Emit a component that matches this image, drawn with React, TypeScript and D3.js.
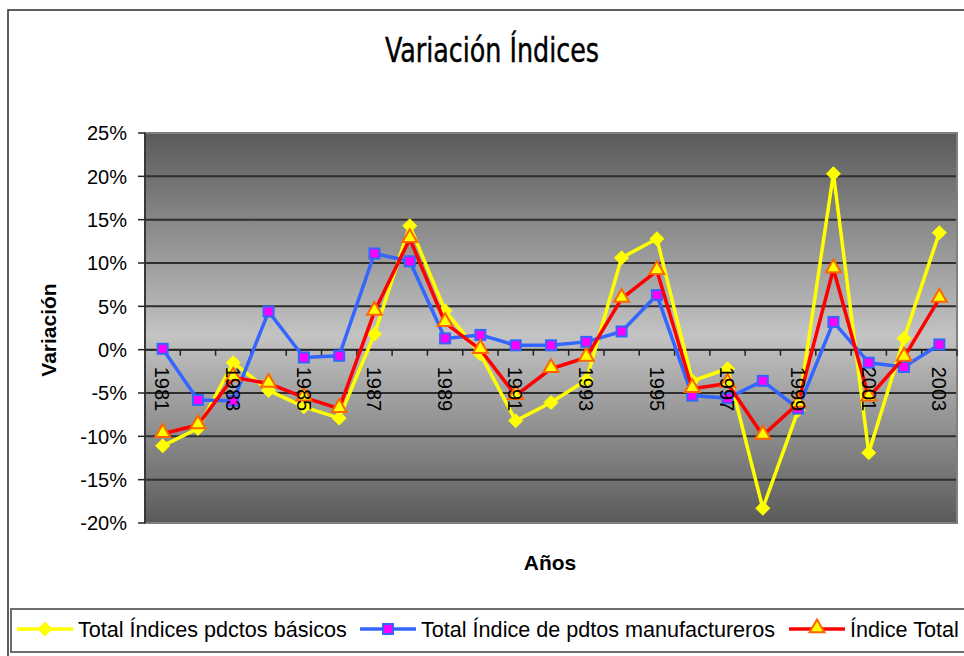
import React from "react";
import * as d3 from "d3";

const years = [1981,1982,1983,1984,1985,1986,1987,1988,1989,1990,1991,1992,1993,1994,1995,1996,1997,1998,1999,2000,2001,2002,2003];
const basicos = [-11.1,-9.1,-1.5,-4.7,-6.6,-7.9,1.8,14.3,4.5,-0.5,-8.2,-6.1,-3.5,10.6,12.8,-3.6,-2.2,-18.3,-7.0,20.3,-11.9,1.3,13.5];
const manufactureros = [0.1,-5.8,-5.9,4.4,-0.9,-0.7,11.1,10.2,1.3,1.7,0.5,0.5,0.9,2.1,6.3,-5.3,-5.6,-3.6,-6.8,3.2,-1.5,-2.0,0.6];
const total = [-9.7,-8.7,-3.2,-3.9,-5.5,-6.8,4.4,12.8,3.1,0.0,-5.3,-2.2,-0.9,5.9,9.1,-4.5,-3.9,-9.9,-6.2,9.3,-5.5,-0.9,5.9];
const yTicks = [-20,-15,-10,-5,0,5,10,15,20,25];
const seriesNames = ["Total Índices pdctos básicos","Total Índice de pdtos manufactureros","Índice Total"];
const title = "Variación Índices";
const xTitle = "Años";
const yTitle = "Variación";

const FONT = "'Liberation Sans', Arial, sans-serif";

export default function App() {
  const left = 145, right = 957, top = 133, bottom = 523;
  const x = d3.scaleBand<number>().domain(years).range([left, right]);
  const bw = x.bandwidth();
  const cx = (yr: number) => (x(yr) as number) + bw / 2;
  const y = d3.scaleLinear().domain([-20, 25]).range([bottom, top]);
  const line = d3.line<number>().x((_, i) => cx(years[i])).y((d) => y(d));

  const triangle = d3.symbol().type(d3.symbolTriangle).size(95)() as string;

  const series = [
    { name: seriesNames[0], data: basicos, color: "#ffff00", marker: "diamond" },
    { name: seriesNames[1], data: manufactureros, color: "#3366ff", marker: "square" },
    { name: seriesNames[2], data: total, color: "#ff0000", marker: "triangle" },
  ];

  const renderMarker = (kind: string, px: number, py: number, key: any) => {
    if (kind === "diamond")
      return <path key={key} d="M0,-7L7,0L0,7L-7,0Z" transform={`translate(${px},${py})`} fill="#ffff00" stroke="#ffff00" strokeWidth={1} />;
    if (kind === "square")
      return <rect key={key} x={px - 5} y={py - 5} width={10} height={10} fill="#ff00ff" stroke="#3366ff" strokeWidth={2} />;
    return <path key={key} d={triangle} transform={`translate(${px},${py - 1})`} fill="#ffff00" stroke="#ff6600" strokeWidth={2} strokeLinejoin="miter" />;
  };

  const y0 = y(0);
  const legendItems = [17, 360, 789];

  return (
    <svg width={964} height={656} style={{ position: "absolute", left: 0, top: 0, fontFamily: FONT }}>
      <defs>
        <linearGradient id="bg" x1="0" y1="0" x2="0" y2="1">
          <stop offset="0" stopColor="#5a5a5a" />
          <stop offset="0.52" stopColor="#c3c3c3" />
          <stop offset="1" stopColor="#5a5a5a" />
        </linearGradient>
      </defs>
      <rect x={0} y={0} width={964} height={656} fill="#ffffff" />
      <rect x={8} y={10} width={980} height={680} fill="#ffffff" stroke="#2a2a2a" strokeWidth={1.5} />
      <text x={492} y={62} textAnchor="middle" fontSize={33} fontFamily="'Liberation Sans Narrow', 'Arial Narrow', 'DejaVu Sans Condensed', sans-serif" stroke="#000" strokeWidth={0.4} textLength={214} lengthAdjust="spacingAndGlyphs">{title}</text>

      <rect x={left} y={top} width={right - left} height={bottom - top} fill="url(#bg)" />
      {yTicks.map((t) => (
        <line key={"g" + t} x1={left} x2={right} y1={y(t)} y2={y(t)} stroke="#2e2e2e" strokeWidth={2} />
      ))}
      <rect x={left} y={top} width={right - left} height={bottom - top} fill="none" stroke="#808080" strokeWidth={2} />

      {/* y axis */}
      <line x1={left} x2={left} y1={top} y2={bottom} stroke="#222" strokeWidth={1.5} />
      {yTicks.map((t) => (
        <g key={"yt" + t}>
          <line x1={left - 7} x2={left} y1={y(t)} y2={y(t)} stroke="#222" strokeWidth={1.5} />
          <text x={127} y={y(t)} dy="0.36em" textAnchor="end" fontSize={20}>{t + "%"}</text>
        </g>
      ))}
      {/* x axis at 0 */}
      <line x1={left} x2={right} y1={y0} y2={y0} stroke="#222" strokeWidth={1.5} />
      {years.map((yr) => (
        <line key={"xt" + yr} x1={(x(yr) as number) + bw} x2={(x(yr) as number) + bw} y1={y0} y2={y0 + 6} stroke="#222" strokeWidth={1.5} />
      ))}

      {series.map((s) => (
        <g key={s.name}>
          <path d={line(s.data) as string} fill="none" stroke={s.color} strokeWidth={3.5} strokeLinejoin="round" />
          {s.data.map((v, i) => renderMarker(s.marker, cx(years[i]), y(v), i))}
        </g>
      ))}

      {years.filter((_, i) => i % 2 === 0).map((yr) => (
        <text key={"xl" + yr} transform={`translate(${cx(yr)},${y0 + 17}) rotate(90)`} textAnchor="start" dy="0.36em" fontSize={20}>{yr}</text>
      ))}

      <text x={550} y={570} textAnchor="middle" fontSize={21} fontWeight="bold">{xTitle}</text>
      <text transform={`translate(56,330) rotate(-90)`} textAnchor="middle" fontSize={21} fontWeight="bold">{yTitle}</text>

      {/* legend */}
      <rect x={11} y={609} width={980} height={43} fill="#ffffff" stroke="#6e6e6e" strokeWidth={2} />
      {series.map((s, i) => {
        const lx = legendItems[i];
        return (
          <g key={"lg" + i}>
            <line x1={lx} x2={lx + 56} y1={629} y2={629} stroke={s.color} strokeWidth={3.5} />
            {renderMarker(s.marker, lx + 28, 629, "m")}
            <text x={lx + 61} y={629} dy="0.36em" fontSize={21.6}>{s.name}</text>
          </g>
        );
      })}
    </svg>
  );
}
